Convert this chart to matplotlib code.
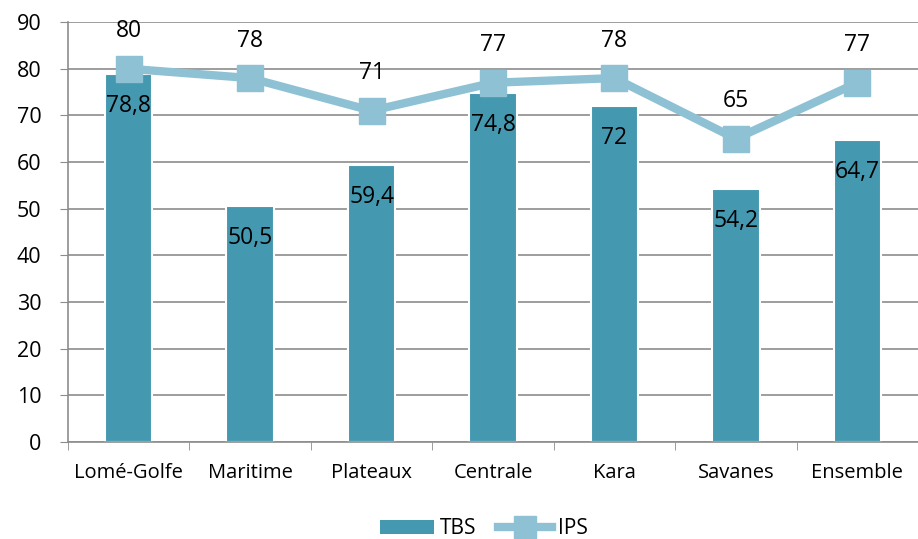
import matplotlib.pyplot as plt
from matplotlib.lines import Line2D
from matplotlib.patches import Patch

plt.rcParams['font.family'] = ['Open Sans', 'DejaVu Sans']

# Data
regions = ['Lomé-Golfe', 'Maritime', 'Plateaux', 'Centrale', 'Kara', 'Savanes', 'Ensemble']
tbs = [78.8, 50.5, 59.4, 74.8, 72, 54.2, 64.7]
ips = [80, 78, 71, 77, 78, 65, 77]

bar_color = '#4498B0'
line_color = '#8EC1D4'
grid_color = '#8C8C8C'

fig = plt.figure(figsize=(9.18, 5.39), dpi=100)
ax = fig.add_axes([0.074, 0.18, 0.926, 0.779])

x = list(range(len(regions)))

ax.bar(x, tbs, width=0.39, color=bar_color, edgecolor='white', linewidth=1.5, zorder=2)
ax.plot(x, ips, color=line_color, lw=6, marker='s', markersize=19,
        markerfacecolor=line_color, markeredgecolor=line_color, zorder=3)

def fmt(v):
    return ('%g' % v).replace('.', ',')

for xi, v in zip(x, tbs):
    ax.annotate(fmt(v), (xi, v), xytext=(0, -23), textcoords='offset points',
                ha='center', va='center', fontsize=16.5, color='black', zorder=4)
for xi, v in zip(x, ips):
    ax.annotate(fmt(v), (xi, v), xytext=(0, 27), textcoords='offset points',
                ha='center', va='center', fontsize=16.5, color='black', zorder=4)

ax.set_ylim(0, 90)
ax.set_yticks(range(0, 91, 10))
ax.set_xlim(-0.5, 6.4)
ax.set_xticks(x)
ax.set_xticklabels(regions)
ax.set_xticks([i - 0.5 for i in range(8)], minor=True)

ax.yaxis.grid(True, color=grid_color, lw=1.2, zorder=0)
ax.set_axisbelow(True)
for s in ['top', 'right']:
    ax.spines[s].set_visible(False)
for s in ['left', 'bottom']:
    ax.spines[s].set_color(grid_color)
    ax.spines[s].set_linewidth(1.2)

ax.tick_params(axis='y', length=6, color=grid_color, labelsize=15.5, pad=13)
ax.tick_params(axis='x', which='major', length=0, labelsize=14.5, pad=15)
ax.tick_params(axis='x', which='minor', length=6, color=grid_color)

handles = [Patch(facecolor=bar_color, edgecolor='none'),
           Line2D([0], [0], color=line_color, lw=6, marker='s', markersize=16)]
fig.legend(handles, ['TBS', 'IPS'], loc='lower center', ncol=2, frameon=False,
           fontsize=15, bbox_to_anchor=(0.527, -0.035), handlelength=2.6,
           handletextpad=0.3, columnspacing=1.0)

fig.savefig('out.png', dpi=100)
